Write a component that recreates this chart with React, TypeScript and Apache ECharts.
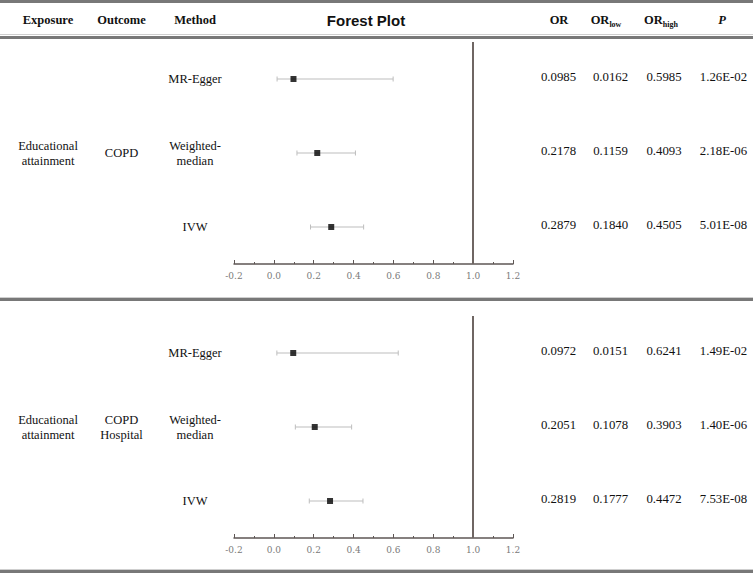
import React, { useEffect, useRef } from "react";
import * as echarts from "echarts";

// ---- data ----
const methods = ["MR-Egger", "Weighted-median", "IVW"];
const exposures = ["Educational attainment", "Educational attainment"];
const outcomes = ["COPD", "COPD Hospital"];

const or1 = [0.0985, 0.2178, 0.2879];
const low1 = [0.0162, 0.1159, 0.184];
const high1 = [0.5985, 0.4093, 0.4505];
const p1 = [1.26e-2, 2.18e-6, 5.01e-8];

const or2 = [0.0972, 0.2051, 0.2819];
const low2 = [0.0151, 0.1078, 0.1777];
const high2 = [0.6241, 0.3903, 0.4472];
const p2 = [1.49e-2, 1.4e-6, 7.53e-8];

const xMin = -0.2;
const xMax = 1.2;
const xInterval = 0.2;
const refValue = 1.0;

const panels = [
  { or: or1, low: low1, high: high1, p: p1 },
  { or: or2, low: low2, high: high2, p: p2 },
];

// ---- layout ----
const W = 753;
const H = 573;
const gridLeft = 234;
const gridWidth = 279;
const panelTops = [42, 316];
const gridHeight = 222;
const serif = "'Liberation Serif', 'Times New Roman', serif";

function fmtP(v: number): string {
  const [m, e] = v.toExponential(2).split("e");
  const n = parseInt(e, 10);
  const sign = n < 0 ? "-" : "+";
  const abs = Math.abs(n);
  return m + "E" + sign + (abs < 10 ? "0" + abs : String(abs));
}

function rowY(panel: number, i: number): number {
  const step = gridHeight / methods.length;
  return panelTops[panel] + step * (i + 0.5);
}

export default function App() {
  const ref = useRef<HTMLDivElement>(null);
  useEffect(() => {
    const chart = echarts.init(ref.current!, null, { renderer: "svg" });

    const grids = panelTops.map((t) => ({
      left: gridLeft,
      top: t,
      width: gridWidth,
      height: gridHeight,
    }));

    const axisColor = "#5e5654";
    const xAxes = panelTops.map((_, gi) => ({
      type: "value",
      gridIndex: gi,
      min: xMin,
      max: xMax,
      interval: xInterval,
      axisLine: { show: true, onZero: false, lineStyle: { color: axisColor, width: 1.5 } },
      axisTick: { show: true, inside: true, length: 4, lineStyle: { color: axisColor, width: 1 } },
      minorTick: { show: true, splitNumber: 2, length: 2, lineStyle: { color: axisColor, width: 1 } },
      splitLine: { show: false },
      minorSplitLine: { show: false },
      axisLabel: {
        show: true,
        margin: 7,
        showMinLabel: true,
        showMaxLabel: true,
        color: "#7a7a7a",
        fontFamily: "DejaVu Serif",
        fontSize: 9,
        formatter: (v: number) => v.toFixed(1),
      },
    }));

    const yAxes = panelTops.map((_, gi) => ({
      type: "category",
      gridIndex: gi,
      data: methods,
      inverse: true,
      axisLine: { show: false },
      axisTick: { show: false },
      splitLine: { show: false },
      axisLabel: {
        show: true,
        align: "center",
        margin: 39,
        color: "#111",
        fontFamily: serif,
        fontSize: 12.5,
        lineHeight: 15,
        formatter: (v: string) => v.replace("Weighted-", "Weighted-\n"),
      },
    }));

    const series: any[] = [];
    panels.forEach((pn, gi) => {
      series.push({
        type: "custom",
        xAxisIndex: gi,
        yAxisIndex: gi,
        encode: { x: [0, 1], y: 2 },
        data: pn.low.map((l, i) => [l, pn.high[i], i]),
        renderItem: (params: any, api: any) => {
          const a = api.coord([api.value(0), api.value(2)]);
          const b = api.coord([api.value(1), api.value(2)]);
          const y = a[1];
          const st = { stroke: "#bdbdbd", lineWidth: 1 };
          return {
            type: "group",
            children: [
              { type: "line", shape: { x1: a[0], y1: y, x2: b[0], y2: y }, style: st },
              { type: "line", shape: { x1: a[0], y1: y - 2.5, x2: a[0], y2: y + 2.5 }, style: st },
              { type: "line", shape: { x1: b[0], y1: y - 2.5, x2: b[0], y2: y + 2.5 }, style: st },
            ],
          };
        },
        z: 2,
      });
      series.push({
        type: "scatter",
        xAxisIndex: gi,
        yAxisIndex: gi,
        data: pn.or.map((v, i) => [v, i]),
        symbol: "rect",
        symbolSize: 6,
        itemStyle: { color: "#000" },
        z: 3,
        markLine: {
          silent: true,
          symbol: ["none", "none"],
          label: { show: false },
          lineStyle: { color: "#6f6663", width: 2, type: "solid" },
          data: [{ xAxis: refValue }],
        },
      });
    });

    const graphic: any[] = [];
    const rect = (y: number, h: number, color: string) =>
      graphic.push({ type: "rect", shape: { x: 0, y, width: W, height: h }, style: { fill: color }, silent: true });
    rect(0, 3, "#787878");
    rect(34, 1, "#cfcfcf");
    rect(36, 3, "#787878");
    rect(297, 1, "#cfcfcf");
    rect(298, 3, "#787878");
    rect(569, 1, "#cfcfcf");
    rect(570, 3, "#787878");

    const txt = (x: number, y: number, text: string, extra: any = {}) =>
      graphic.push({
        type: "text",
        x,
        y,
        silent: true,
        style: {
          text,
          fill: "#111",
          font: `12.5px ${serif}`,
          align: "center",
          verticalAlign: "middle",
          lineHeight: 15,
          ...extra,
        },
      });

    const headY = 20;
    const hb = `bold 12.5px ${serif}`;
    txt(48, headY, "Exposure", { font: hb });
    txt(121.5, headY, "Outcome", { font: hb });
    txt(195, headY, "Method", { font: hb });
    txt(366, headY, "Forest Plot", { font: "bold 15px 'Liberation Sans', Arial, sans-serif" });
    txt(559, headY, "OR", { font: hb });
    graphic.push({
      type: "text",
      x: 606,
      y: headY,
      silent: true,
      style: {
        text: "{a|OR}{b|low}",
        align: "center",
        verticalAlign: "middle",
        rich: {
          a: { font: hb, fill: "#111", lineHeight: 16 },
          b: { font: `bold 8px ${serif}`, fill: "#111", lineHeight: 8, verticalAlign: "bottom" },
        },
      },
    });
    graphic.push({
      type: "text",
      x: 661,
      y: headY,
      silent: true,
      style: {
        text: "{a|OR}{b|high}",
        align: "center",
        verticalAlign: "middle",
        rich: {
          a: { font: hb, fill: "#111", lineHeight: 16 },
          b: { font: `bold 8px ${serif}`, fill: "#111", lineHeight: 8, verticalAlign: "bottom" },
        },
      },
    });
    txt(722, headY, "P", { font: `italic bold 12.5px ${serif}` });

    const colX = [558.5, 610.5, 664, 723.5];
    panels.forEach((pn, gi) => {
      const mid = panelTops[gi] + gridHeight / 2;
      txt(48, mid, exposures[gi].replace(" ", "\n"));
      txt(121.5, mid, outcomes[gi].replace(" ", "\n"));
      pn.or.forEach((v, i) => {
        const y = rowY(gi, i) - 2;
        const nf = `12.8px ${serif}`;
        txt(colX[0], y, v.toFixed(4), { font: nf });
        txt(colX[1], y, pn.low[i].toFixed(4), { font: nf });
        txt(colX[2], y, pn.high[i].toFixed(4), { font: nf });
        txt(colX[3], y, fmtP(pn.p[i]), { font: nf });
      });
    });

    chart.setOption({
      animation: false,
      backgroundColor: "#fff",
      grid: grids,
      xAxis: xAxes,
      yAxis: yAxes,
      series,
      graphic,
    });
    return () => chart.dispose();
  }, []);
  return (
    <div
      ref={ref}
      style={{ position: "fixed", left: 0, top: 0, width: W, height: H, background: "#fff" }}
    />
  );
}
